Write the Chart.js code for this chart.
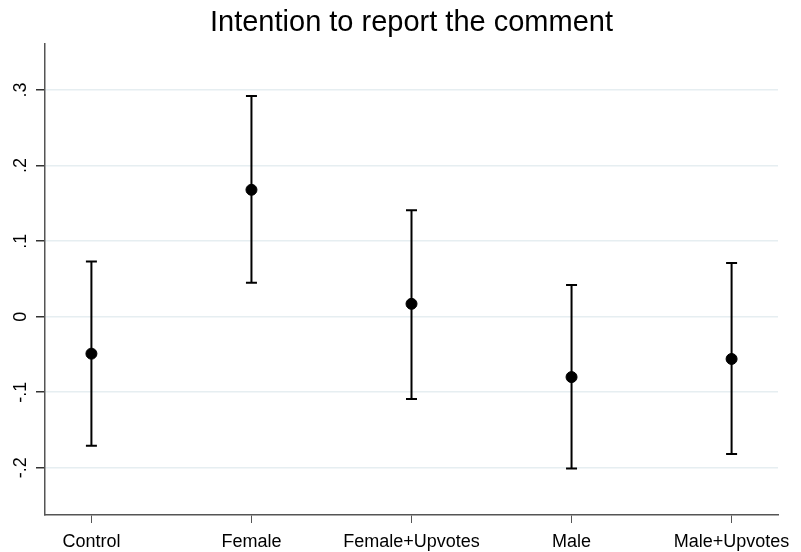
<!DOCTYPE html>
<html>
<head>
<meta charset="utf-8">
<script src="https://cdn.jsdelivr.net/npm/chart.js@4.4.1/dist/chart.umd.min.js"></script>
<style>
  html, body { margin: 0; padding: 0; background: #fff; }
  #wrap { width: 801px; height: 552px; }
</style>
</head>
<body>
<div id="wrap"><canvas id="grafico"></canvas></div>
<script>
// Datos
const grupos = ['Control', 'Female', 'Female+Upvotes', 'Male', 'Male+Upvotes'];
const estimaciones = [-0.049, 0.168, 0.017, -0.080, -0.056];
const limiteInferior = [-0.171, 0.045, -0.109, -0.201, -0.182];
const limiteSuperior = [0.073, 0.292, 0.141, 0.042, 0.071];
const ticksY = [-0.2, -0.1, 0, 0.1, 0.2, 0.3];
const etiquetasY = ['-.2', '-.1', '0', '.1', '.2', '.3'];

const fuente = "'Liberation Sans', Arial, sans-serif";

// Plugin para dibujar las barras de error usando las escalas
const barrasError = {
    id: 'barrasError',
    beforeDatasetsDraw(chart) {
        const ctx = chart.ctx;
        const x = chart.scales.x;
        const y = chart.scales.y;
        ctx.save();
        ctx.strokeStyle = '#000';
        ctx.lineWidth = 2;
        grupos.forEach((g, i) => {
            const px = x.getPixelForValue(i);
            const yLo = y.getPixelForValue(limiteInferior[i]);
            const yHi = y.getPixelForValue(limiteSuperior[i]);
            ctx.beginPath();
            ctx.moveTo(px, yLo);
            ctx.lineTo(px, yHi);
            ctx.moveTo(px - 5.5, yLo);
            ctx.lineTo(px + 5.5, yLo);
            ctx.moveTo(px - 5.5, yHi);
            ctx.lineTo(px + 5.5, yHi);
            ctx.stroke();
        });
        ctx.restore();
    }
};

new Chart(document.getElementById('grafico'), {
    type: 'scatter',
    data: {
        datasets: [{
            data: estimaciones.map((v, i) => ({ x: i, y: v })),
            backgroundColor: '#000',
            borderColor: '#000',
            pointRadius: 5.5,
            pointHoverRadius: 5.5
        }]
    },
    options: {
        responsive: true,
        maintainAspectRatio: false,
        animation: false,
        layout: { padding: { top: 0, right: 23, bottom: 0, left: 0 } },
        plugins: {
            legend: { display: false },
            tooltip: { enabled: false },
            title: {
                display: true,
                fullSize: false,
                text: 'Intention to report the comment',
                color: '#000',
                font: { family: fuente, size: 29, weight: 'normal', lineHeight: 1.2 },
                padding: { top: 5.5, bottom: 3.7 }
            }
        },
        scales: {
            x: {
                type: 'linear',
                min: -0.29,
                max: 4.29,
                afterBuildTicks: (s) => { s.ticks = grupos.map((g, i) => ({ value: i })); },
                afterFit: (s) => { s.height = 37; },
                border: { color: '#555', width: 1.5 },
                grid: { drawOnChartArea: false, color: '#555', tickLength: 8, lineWidth: 1 },
                ticks: {
                    color: '#000',
                    padding: 8,
                    autoSkip: false,
                    maxRotation: 0,
                    font: { family: fuente, size: 18 },
                    callback: (v) => grupos[v]
                }
            },
            y: {
                min: -0.2626,
                max: 0.361,
                afterBuildTicks: (s) => { s.ticks = ticksY.map(v => ({ value: v })); },
                afterFit: (s) => { s.width = 45; },
                border: { color: '#555', width: 1.5 },
                grid: { color: '#e6eef1', lineWidth: 1.5, tickColor: '#333', tickLength: 9 },
                ticks: {
                    color: '#000',
                    padding: 4,
                    minRotation: 90,
                    maxRotation: 90,
                    crossAlign: 'center',
                    font: { family: fuente, size: 18 },
                    callback: (v) => etiquetasY[ticksY.indexOf(v)]
                }
            }
        }
    },
    plugins: [barrasError]
});
</script>
</body>
</html>
